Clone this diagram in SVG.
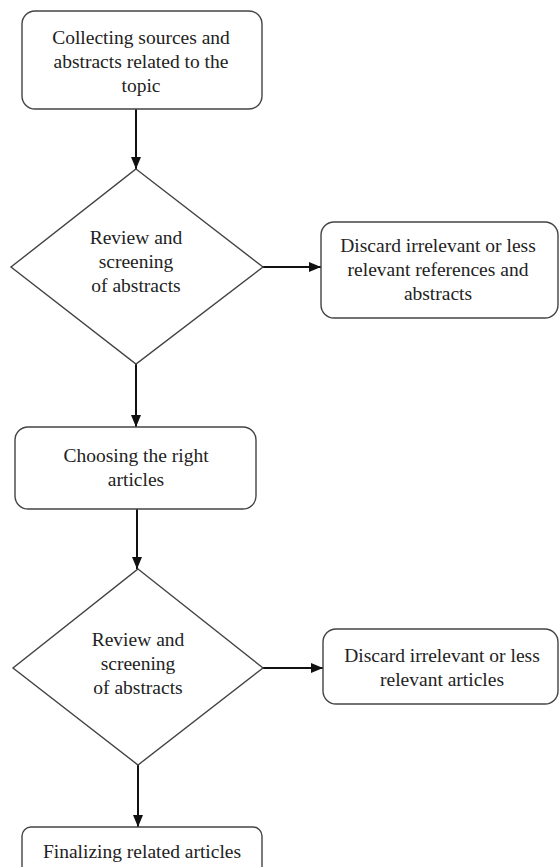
<svg xmlns="http://www.w3.org/2000/svg" width="559" height="867" viewBox="0 0 559 867">
<style>
.box{fill:#fff;stroke:#444;stroke-width:1.4}
.t{font-family:"Liberation Serif","Times New Roman",serif;font-size:19.5px;fill:#222;text-anchor:middle}
.c{stroke:#111;stroke-width:2;fill:none}
</style>
<defs>
<marker id="ah" markerWidth="12" markerHeight="12" viewBox="0 0 12 12" refX="12" refY="6" orient="auto" markerUnits="userSpaceOnUse">
<path d="M0,1 L12,6 L0,11 Z" fill="#111"/>
</marker>
</defs>
<rect width="559" height="867" fill="#fff"/>
<g id="connectors">
<line class="c" x1="136" y1="109" x2="136" y2="169" marker-end="url(#ah)"/>
<line class="c" x1="263" y1="267" x2="321" y2="267" marker-end="url(#ah)"/>
<line class="c" x1="136" y1="364" x2="136" y2="427" marker-end="url(#ah)"/>
<line class="c" x1="137" y1="509" x2="137" y2="569" marker-end="url(#ah)"/>
<line class="c" x1="263" y1="668" x2="323" y2="668" marker-end="url(#ah)"/>
<line class="c" x1="138" y1="765" x2="138" y2="827" marker-end="url(#ah)"/>
</g>
<g id="n1">
<rect class="box" x="22" y="11" width="240" height="98" rx="13"/>
<text class="t" x="141" y="44">Collecting sources and</text>
<text class="t" x="141" y="68">abstracts related to the</text>
<text class="t" x="141" y="92">topic</text>
</g>
<g id="n2">
<polygon class="box" points="136,169 263,267 136,364 11,267"/>
<text class="t" x="136" y="244">Review and</text>
<text class="t" x="136" y="268">screening</text>
<text class="t" x="136" y="292">of abstracts</text>
</g>
<g id="n3">
<rect class="box" x="321" y="222" width="237" height="96" rx="13"/>
<text class="t" x="438" y="252">Discard irrelevant or less</text>
<text class="t" x="438" y="276">relevant references and</text>
<text class="t" x="438" y="300">abstracts</text>
</g>
<g id="n4">
<rect class="box" x="15" y="427" width="241" height="82" rx="13"/>
<text class="t" x="136" y="462">Choosing the right</text>
<text class="t" x="136" y="486">articles</text>
</g>
<g id="n5">
<polygon class="box" points="138,569 263,668 138,765 13,668"/>
<text class="t" x="138" y="646">Review and</text>
<text class="t" x="138" y="670">screening</text>
<text class="t" x="138" y="694">of abstracts</text>
</g>
<g id="n6">
<rect class="box" x="323" y="629" width="235" height="75" rx="13"/>
<text class="t" x="442" y="662">Discard irrelevant or less</text>
<text class="t" x="442" y="686">relevant articles</text>
</g>
<g id="n7">
<rect class="box" x="22" y="827" width="240" height="60" rx="9"/>
<text class="t" x="142" y="858">Finalizing related articles</text>
</g>
</svg>
